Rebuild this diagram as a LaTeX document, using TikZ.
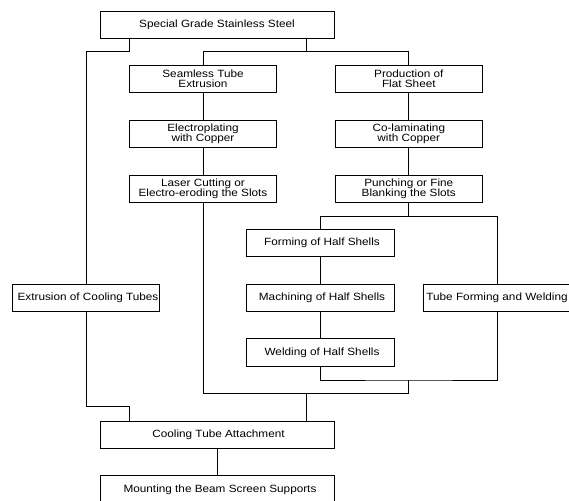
\documentclass[tikz,border=0pt]{standalone}
\usepackage{fontspec}
\setmainfont[FakeStretch=1.12]{Liberation Sans}
\begin{document}
\begin{tikzpicture}[x=1pt,y=-1pt,
  box/.style={draw=black,line width=0.8pt,rectangle,inner sep=0pt,align=center,
    font=\fontsize{10.5}{10}\selectfont,minimum height=27.3pt},
  wide/.style={box,minimum width=234pt},
  mid/.style={box,minimum width=147.6pt},
  conn/.style={draw=black,line width=0.8pt}]
\useasboundingbox (0,0) rectangle (569,500);
\fill[white] (0,0) rectangle (569,500);
\clip (0,0) rectangle (569,500);
% nodes
\node[wide] (top) at (217,24.7) {Special Grade Stainless Steel};
\node[mid] (seam) at (203,79.2) {Seamless Tube\\Extrusion};
\node[mid] (prod) at (408.8,79.2) {Production of\\Flat Sheet};
\node[mid] (elec) at (203,134.2) {Electroplating\\with Copper};
\node[mid] (colam) at (408.8,134.2) {Co-laminating\\with Copper};
\node[mid] (laser) at (203,188.8) {Laser Cutting or\\Electro-eroding the Slots};
\node[mid] (punch) at (408.8,188.8) {Punching or Fine\\Blanking the Slots};
\node[mid] (form) at (320.5,243) {\hspace*{3pt}Forming of Half Shells};
\node[mid] (mach) at (320.5,298.2) {\hspace*{3pt}Machining of Half Shells};
\node[mid] (weld) at (320.5,352.3) {\hspace*{3pt}Welding of Half Shells};
\node[mid] (tube) at (497,298.2) {Tube Forming and Welding};
\node[mid,minimum width=146.6pt] (extr) at (86,298.2) {\hspace*{4pt}Extrusion of Cooling Tubes};
\node[wide] (cool) at (217,434.7) {\hspace*{3pt}Cooling Tube Attachment};
\node[wide,minimum height=28.6pt] (mount) at (217,490) {\hspace*{6pt}Mounting the Beam Screen Supports};
% junctions
\coordinate (j1) at (129.5,51.7);
\coordinate (j2) at (306,51.7);
\coordinate (j3) at (408.8,216.3);
\coordinate (j4) at (408.8,380);
\coordinate (j5) at (306,393.3);
\coordinate (j6) at (129.5,406.7);
% connectors
\draw[conn] (top.south -| j1) -- (j1) -| (extr.north);
\draw[conn] (top.south -| j2) -- (j2);
\draw[conn] (seam.north) |- (j2) -| (prod.north);
\draw[conn] (seam) -- (elec);
\draw[conn] (elec) -- (laser);
\draw[conn] (prod) -- (colam);
\draw[conn] (colam) -- (punch);
\draw[conn] (punch.south) -- (j3);
\draw[conn] (form.north) |- (j3) -| (tube.north);
\draw[conn] (form) -- (mach);
\draw[conn] (mach) -- (weld);
\draw[conn] (weld.south) |- (j4) -| (tube.south);
\draw[conn] (laser.south) |- (j5) -| (j4);
\draw[conn] (j5) -- (cool.north -| j5);
\draw[conn] (extr.south) |- (j6) -- (cool.north -| j6);
\draw[conn] (cool) -- (mount);
\end{tikzpicture}
\end{document}
